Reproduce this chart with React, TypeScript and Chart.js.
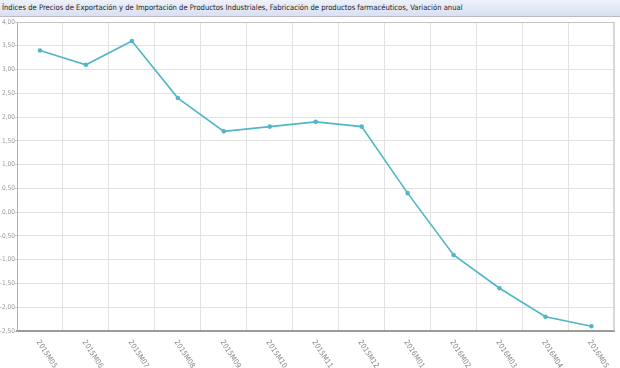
import React, { useEffect, useRef } from "react";
import { Chart, registerables } from "chart.js";

Chart.register(...registerables);

const TITLE =
  "Índices de Precios de Exportación y de Importación de Productos Industriales, Fabricación de productos farmacéuticos, Variación anual";

const categories = [
  "2015M05", "2015M06", "2015M07", "2015M08", "2015M09", "2015M10", "2015M11",
  "2015M12", "2016M01", "2016M02", "2016M03", "2016M04", "2016M05",
];

const values = [3.4, 3.1, 3.6, 2.4, 1.7, 1.8, 1.9, 1.8, 0.4, -0.9, -1.6, -2.2, -2.4];

const yMin = -2.5;
const yMax = 4;
const yStep = 0.5;

const FONT = "'Liberation Sans Narrow', 'DejaVu Sans Condensed', 'Liberation Sans', Arial, sans-serif";

const xLabelPlugin = {
  id: "xLabelPlugin",
  afterDraw(chart: any) {
    const { ctx, chartArea } = chart;
    const xs = chart.scales.x;
    ctx.save();
    ctx.strokeStyle = "#c4c4c4";
    ctx.lineWidth = 1;
    ctx.beginPath();
    ctx.moveTo(chartArea.left, chartArea.top + 0.5);
    ctx.lineTo(chartArea.right, chartArea.top + 0.5);
    ctx.moveTo(chartArea.right - 0.5, chartArea.top);
    ctx.lineTo(chartArea.right - 0.5, chartArea.bottom);
    ctx.stroke();
    ctx.fillStyle = "#888";
    ctx.font = `7.5px ${FONT}`;
    ctx.textAlign = "left";
    ctx.textBaseline = "middle";
    categories.forEach((lab, i) => {
      const x = xs.getPixelForTick(i);
      const y = chartArea.bottom + 10;
      ctx.save();
      ctx.translate(x - 2, y);
      ctx.rotate((57 * Math.PI) / 180);
      ctx.fillText(lab, 0, 0);
      ctx.restore();
    });
    ctx.restore();
  },
};

export default function App() {
  const ref = useRef<HTMLCanvasElement | null>(null);

  useEffect(() => {
    if (!ref.current) return;
    const chart = new Chart(ref.current, {
      type: "line",
      data: {
        labels: categories,
        datasets: [
          {
            data: values,
            borderColor: "#4fb7c6",
            backgroundColor: "#4fb7c6",
            pointBackgroundColor: "#4fb7c6",
            pointBorderColor: "#4fb7c6",
            borderWidth: 1.6,
            pointRadius: 1.5,
            tension: 0,
            fill: false,
          },
        ],
      },
      options: {
        animation: false,
        responsive: false,
        layout: { padding: { top: 22, right: 1, left: 0, bottom: 0 } },
        plugins: {
          legend: { display: false },
          title: { display: false },
          tooltip: { enabled: false },
        },
        scales: {
          x: {
            type: "category",
            offset: true,
            grid: { offset: true, color: "#e2e2e2", drawTicks: false },
            border: { color: "#9a9a9a", width: 2 },
            ticks: { display: false },
            afterFit: (s: any) => {
              s.height = 37;
            },
          },
          y: {
            min: yMin,
            max: yMax,
            grid: { color: "#e2e2e2", tickLength: 2, tickColor: "#c8c8c8" },
            border: { color: "#b0b0b0", width: 1 },
            ticks: {
              stepSize: yStep,
              padding: 0,
              color: "#999",
              font: { size: 6.5, family: FONT },
              callback: (v: any) => Number(v).toFixed(2).replace(".", ","),
            },
            afterFit: (s: any) => {
              s.width = 17;
            },
          },
        },
      },
      plugins: [xLabelPlugin],
    });
    return () => chart.destroy();
  }, []);

  return (
    <div
      style={{
        position: "fixed",
        top: 0,
        left: 0,
        width: 620,
        height: 368,
        background: "#fff",
        overflow: "hidden",
      }}
    >
      <canvas ref={ref} width={620} height={368} style={{ position: "absolute", left: 0, top: 0 }} />
      <div
        style={{
          position: "absolute",
          left: 0,
          top: 0,
          width: 618,
          height: 16,
          background: "linear-gradient(#eef1fa, #d9e0f2)",
          borderBottom: "1px solid #b8bcc8",
          borderRight: "1px solid #c8ccd8",
          fontFamily: FONT,
          fontSize: 7.6,
          lineHeight: "16px",
          color: "#222",
          paddingLeft: 2,
          whiteSpace: "nowrap",
          boxSizing: "content-box",
        }}
      >
        {TITLE}
      </div>
    </div>
  );
}
